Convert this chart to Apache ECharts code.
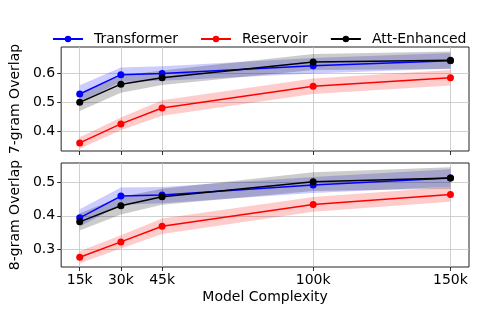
<!DOCTYPE html>
<html>
<head>
<meta charset="utf-8">
<script src="https://cdn.jsdelivr.net/npm/echarts@6/dist/echarts.min.js"></script>
<style>html,body{margin:0;padding:0;background:#fff}#c{width:498px;height:311px}</style>
</head>
<body>
<div id="c"></div>
<script>
const xs = [15, 30, 45, 100, 150];
const xTickLabels = ['15k', '30k', '45k', '100k', '150k'];
const seriesNames = ['Transformer', 'Reservoir', 'Att-Enhanced'];
const colors = ['#0000ff', '#ff0000', '#000000'];

const g7_transformer = [0.529, 0.596, 0.600, 0.627, 0.644];
const g7_reservoir   = [0.359, 0.425, 0.480, 0.556, 0.585];
const g7_att         = [0.500, 0.563, 0.585, 0.640, 0.646];
const g7_transformer_sd = [0.030, 0.025, 0.025, 0.027, 0.027];
const g7_reservoir_sd   = [0.020, 0.022, 0.027, 0.027, 0.027];
const g7_att_sd         = [0.030, 0.030, 0.025, 0.028, 0.030];

const g8_transformer = [0.394, 0.459, 0.462, 0.492, 0.513];
const g8_reservoir   = [0.276, 0.322, 0.369, 0.434, 0.464];
const g8_att         = [0.382, 0.430, 0.457, 0.502, 0.513];
const g8_transformer_sd = [0.026, 0.026, 0.024, 0.024, 0.026];
const g8_reservoir_sd   = [0.018, 0.020, 0.023, 0.022, 0.022];
const g8_att_sd         = [0.026, 0.026, 0.024, 0.028, 0.032];

const y7Ticks = [0.4, 0.5, 0.6];
const y8Ticks = [0.3, 0.4, 0.5];

const FONT = 'DejaVu Sans';
const FS = 14;
const chart = echarts.init(document.getElementById('c'), null, {renderer: 'canvas'});

function xAxisCfg(idx, showLabels) {
  return {
    type: 'value', gridIndex: idx, min: 8.25, max: 156.75,
    axisLine: {show: false},
    axisTick: {show: true, inside: false, length: 4, customValues: xs, lineStyle: {color: '#000', width: 0.8}},
    axisLabel: {show: showLabels, customValues: xs, color: '#000', fontFamily: FONT, fontSize: FS, margin: 6,
      formatter: v => xTickLabels[xs.indexOf(v)] || ''},
    splitLine: {show: true, lineStyle: {color: '#c4c4c4', width: 0.8}},
    name: showLabels ? 'Model Complexity' : '',
    nameLocation: 'middle', nameGap: 23,
    nameTextStyle: {color: '#000', fontFamily: FONT, fontSize: FS}
  };
}
function yAxisCfg(idx, min, max, ticks, name) {
  return {
    type: 'value', gridIndex: idx, min: min, max: max,
    axisLine: {show: false},
    axisTick: {show: true, inside: false, length: 4, customValues: ticks, lineStyle: {color: '#000', width: 0.8}},
    axisLabel: {show: true, customValues: ticks, color: '#000', fontFamily: FONT, fontSize: FS, margin: 6,
      formatter: v => v.toFixed(1)},
    splitLine: {show: true, lineStyle: {color: '#c4c4c4', width: 0.8}},
    name: name, nameLocation: 'middle', nameGap: 34, nameRotate: 90,
    nameTextStyle: {color: '#000', fontFamily: FONT, fontSize: FS}
  };
}

const series = [];
function addPanel(idx, means, sds) {
  means.forEach((m, k) => {
    const sd = sds[k];
    const bandData = xs.map((x, i) => [x, m[i] - sd[i], m[i] + sd[i]]);
    series.push({
      type: 'custom', xAxisIndex: idx, yAxisIndex: idx, silent: true, z: 1,
      data: bandData,
      encode: {x: 0, y: [1, 2]},
      clip: true,
      renderItem: function (params, api) {
        if (params.dataIndex !== 0) return null;
        const upper = bandData.map(d => api.coord([d[0], d[2]]));
        const lower = bandData.map(d => api.coord([d[0], d[1]])).reverse();
        return {
          type: 'polygon',
          shape: {points: upper.concat(lower)},
          style: {fill: colors[k], opacity: 0.2}
        };
      }
    });
  });
  means.forEach((m, k) => {
    series.push({
      name: seriesNames[k], type: 'line', xAxisIndex: idx, yAxisIndex: idx,
      data: xs.map((x, i) => [x, m[i]]),
      symbol: 'circle', symbolSize: 7,
      itemStyle: {color: colors[k]},
      lineStyle: {color: colors[k], width: 1.5}, z: 5 + k
    });
  });
}
addPanel(0, [g7_transformer, g7_reservoir, g7_att], [g7_transformer_sd, g7_reservoir_sd, g7_att_sd]);
addPanel(1, [g8_transformer, g8_reservoir, g8_att], [g8_transformer_sd, g8_reservoir_sd, g8_att_sd]);

chart.setOption({
  animation: false,
  backgroundColor: '#fff',
  legend: {
    data: seriesNames, top: 27, left: 47, itemWidth: 30, itemHeight: 8, itemGap: 22,
    textStyle: {color: '#000', fontFamily: FONT, fontSize: FS, padding: [0, 0, 0, 6]}
  },
  grid: [
    {left: 53, right: 29, top: 47, height: 104, show: true, borderColor: '#222', borderWidth: 1, containLabel: false},
    {left: 53, right: 29, top: 163, height: 104, show: true, borderColor: '#222', borderWidth: 1, containLabel: false}
  ],
  xAxis: [xAxisCfg(0, false), xAxisCfg(1, true)],
  yAxis: [yAxisCfg(0, 0.331, 0.692, y7Ticks, '7-gram Overlap'), yAxisCfg(1, 0.247, 0.558, y8Ticks, '8-gram Overlap')],
  series: series
});
</script>
</body>
</html>
